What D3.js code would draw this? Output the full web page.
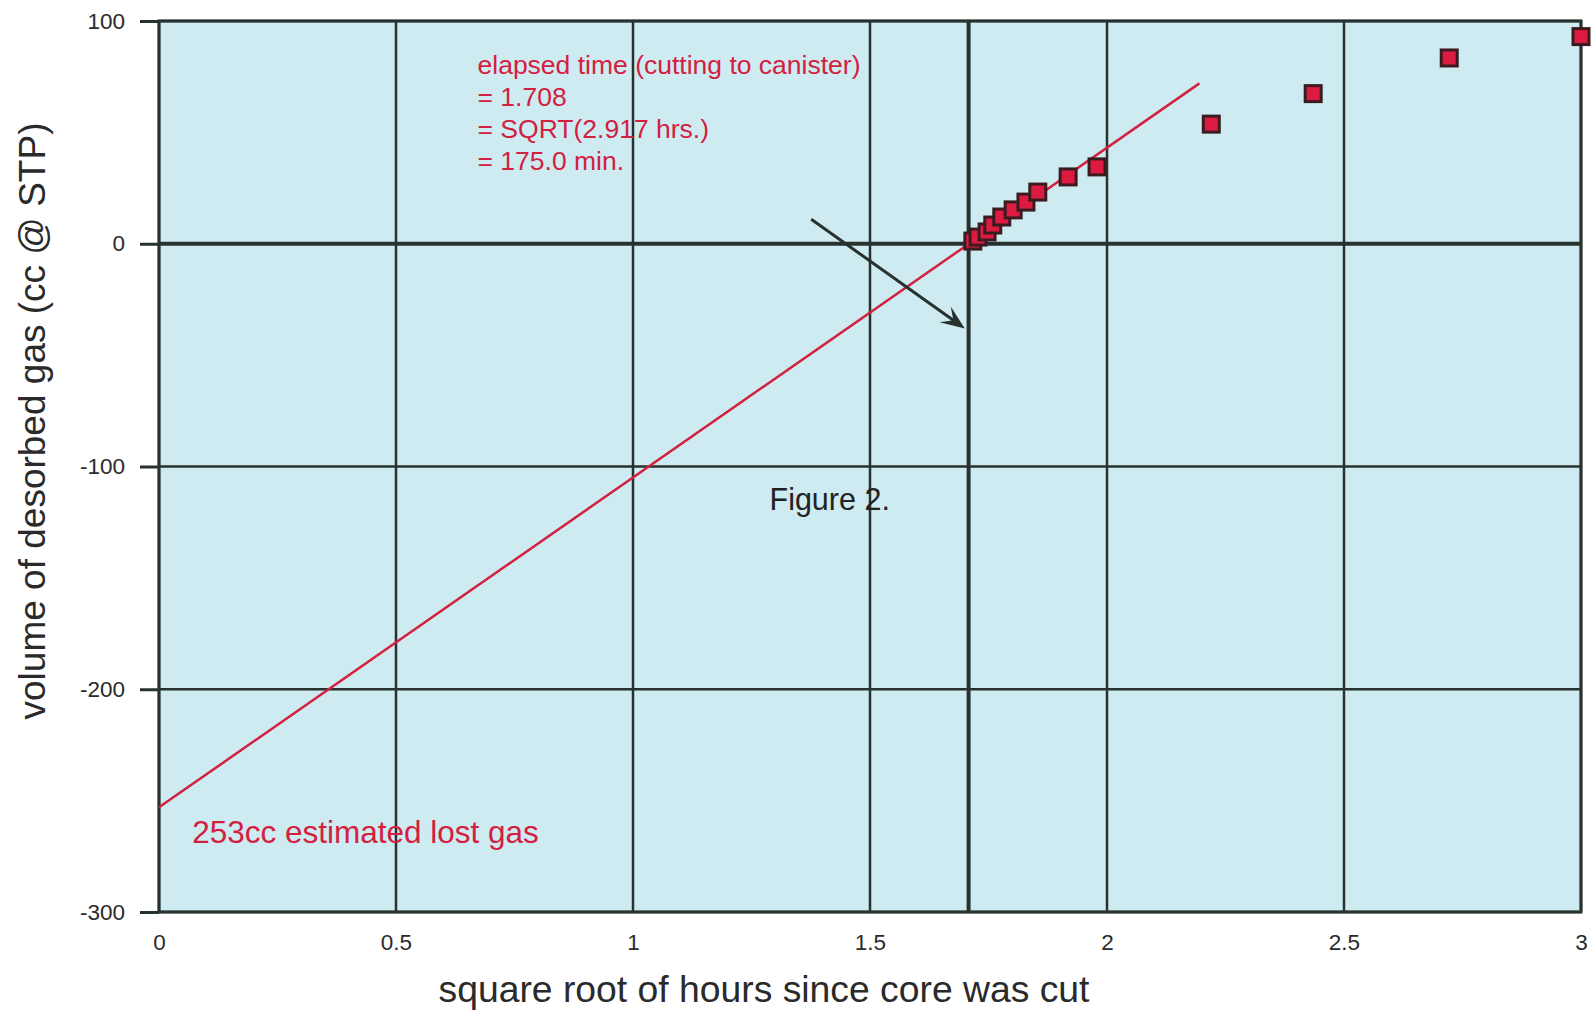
<!doctype html>
<html lang="en">
<head>
<meta charset="utf-8"/>
<title>Figure 2 - desorbed gas</title>
<style>
    body { margin: 0; background: #fff; }
    text { font-family: "Liberation Sans", Arial, Helvetica, sans-serif; }
</style>
<script src="https://d3js.org/d3.v7.min.js"></script>
</head>
<body>
<svg width="1596" height="1017"></svg>
<script>
    // measured points (sqrt hours, cc @ STP)
    var sqrtHours = [1.717, 1.728, 1.747, 1.759, 1.778, 1.802, 1.829, 1.854, 1.918, 1.979, 2.220, 2.435, 2.722, 3.0];
    var volume    = [1.2, 3.0, 5.3, 8.4, 12.0, 15.2, 18.7, 23.2, 30.0, 34.5, 53.7, 67.4, 83.4, 93.0];

    // fitted lost-gas line
    var fitX = [0, 2.195];
    var fitY = [-253, 72];

    var xTicks = [0, 0.5, 1, 1.5, 2, 2.5, 3];
    var yTicks = [100, 0, -100, -200, -300];
    var cutTime = 1.708;

    var noteLines = ["elapsed time (cutting to canister)", "= 1.708", "= SQRT(2.917 hrs.)", "= 175.0 min."];

    var svg = d3.select("svg"),
        margin = {top: 21, right: 15, bottom: 105, left: 159},
        width = +svg.attr("width") - margin.left - margin.right,
        height = +svg.attr("height") - margin.top - margin.bottom;

    var x = d3.scaleLinear().domain([0, 3]).range([0, width]),
        y = d3.scaleLinear().domain([-300, 100]).range([height, 0]);

    var g = svg.append("g")
        .attr("transform", "translate(" + margin.left + "," + margin.top + ")");

    var gridColor = "#27312d",
        red = "#d3203f";

    g.append("rect")
     .attr("width", width)
     .attr("height", height)
     .attr("fill", "#cfebf2");

    // grid
    g.selectAll(".vgrid")
     .data(xTicks)
     .enter().append("line")
     .attr("x1", function(d) { return x(d); })
     .attr("x2", function(d) { return x(d); })
     .attr("y1", 0)
     .attr("y2", height)
     .attr("stroke", gridColor)
     .attr("stroke-width", 2.5);

    g.selectAll(".hgrid")
     .data(yTicks)
     .enter().append("line")
     .attr("x1", 0)
     .attr("x2", width)
     .attr("y1", function(d) { return y(d); })
     .attr("y2", function(d) { return y(d); })
     .attr("stroke", gridColor)
     .attr("stroke-width", function(d) { return d === 0 ? 4 : 2.5; });

    // cut time line
    g.append("line")
     .attr("x1", x(cutTime))
     .attr("x2", x(cutTime))
     .attr("y1", 0)
     .attr("y2", height)
     .attr("stroke", gridColor)
     .attr("stroke-width", 4);

    // frame
    g.append("rect")
     .attr("width", width)
     .attr("height", height)
     .attr("fill", "none")
     .attr("stroke", gridColor)
     .attr("stroke-width", 3);

    // axes
    var yAxis = g.append("g")
     .call(d3.axisLeft(y).tickValues(yTicks).tickSize(19).tickPadding(15).tickFormat(function(d) { return String(d); }));
    yAxis.select(".domain").remove();
    yAxis.selectAll("line").attr("stroke", gridColor).attr("stroke-width", 3);
    yAxis.selectAll("text").attr("font-size", 22.5).attr("fill", "#2a2a2a")
         .attr("font-family", "'Liberation Sans', Arial, sans-serif");

    var xAxis = g.append("g")
     .attr("transform", "translate(0," + height + ")")
     .call(d3.axisBottom(x).tickValues(xTicks).tickSize(0).tickPadding(22).tickFormat(function(d) { return d; }));
    xAxis.select(".domain").remove();
    xAxis.selectAll("text").attr("font-size", 22.5).attr("fill", "#2a2a2a")
         .attr("font-family", "'Liberation Sans', Arial, sans-serif");

    // fitted line
    g.append("line")
     .attr("x1", x(fitX[0]))
     .attr("y1", y(fitY[0]))
     .attr("x2", x(fitX[1]))
     .attr("y2", y(fitY[1]))
     .attr("stroke", red)
     .attr("stroke-width", 2.5);

    // arrow
    var arrowFrom = [1.376, 11], arrowTo = [1.700, -38];
    var ax1 = x(arrowFrom[0]), ay1 = y(arrowFrom[1]),
        ax2 = x(arrowTo[0]), ay2 = y(arrowTo[1]);
    var ang = Math.atan2(ay2 - ay1, ax2 - ax1);
    g.append("line")
     .attr("x1", ax1).attr("y1", ay1)
     .attr("x2", ax2 - 8 * Math.cos(ang)).attr("y2", ay2 - 8 * Math.sin(ang))
     .attr("stroke", gridColor)
     .attr("stroke-width", 3);
    function pt(len, da) {
        return [ax2 - len * Math.cos(ang + da), ay2 - len * Math.sin(ang + da)];
    }
    g.append("path")
     .attr("d", "M" + [ax2, ay2] + "L" + pt(26, 0.38) + "L" + pt(14, 0) + "L" + pt(26, -0.38) + "Z")
     .attr("fill", gridColor);

    // points
    var pts = sqrtHours.map(function(d, i) { return {x: d, y: volume[i]}; });
    var s = 16;
    g.selectAll(".pt")
     .data(pts)
     .enter().append("rect")
     .attr("class", "pt")
     .attr("x", function(d) { return x(d.x) - s / 2; })
     .attr("y", function(d) { return y(d.y) - s / 2; })
     .attr("width", s)
     .attr("height", s)
     .attr("fill", "#dc1a42")
     .attr("stroke", "#3a1c20")
     .attr("stroke-width", 3);

    // annotations
    var note = g.append("text")
     .attr("y", y(76))
     .attr("font-size", 26.5)
     .attr("fill", red);
    note.selectAll("tspan")
     .data(noteLines)
     .enter().append("tspan")
     .attr("x", x(0.672))
     .attr("dy", function(d, i) { return i === 0 ? 0 : 32; })
     .text(function(d) { return d; });

    g.append("text")
     .attr("x", x(0.07))
     .attr("y", y(-269))
     .attr("font-size", 31.5)
     .attr("fill", red)
     .text("253cc estimated lost gas");

    g.append("text")
     .attr("x", x(1.288))
     .attr("y", y(-119.5))
     .attr("font-size", 30.5)
     .attr("fill", "#222")
     .text("Figure 2.");

    // axis titles
    svg.append("text")
     .attr("x", 764)
     .attr("y", 1002)
     .attr("text-anchor", "middle")
     .attr("font-size", 37.3)
     .attr("fill", "#2a2a2a")
     .text("square root of hours since core was cut");

    svg.append("text")
     .attr("transform", "translate(45,421) rotate(-90)")
     .attr("text-anchor", "middle")
     .attr("font-size", 37)
     .attr("fill", "#2a2a2a")
     .text("volume of desorbed gas (cc @ STP)");
</script>
</body>
</html>
